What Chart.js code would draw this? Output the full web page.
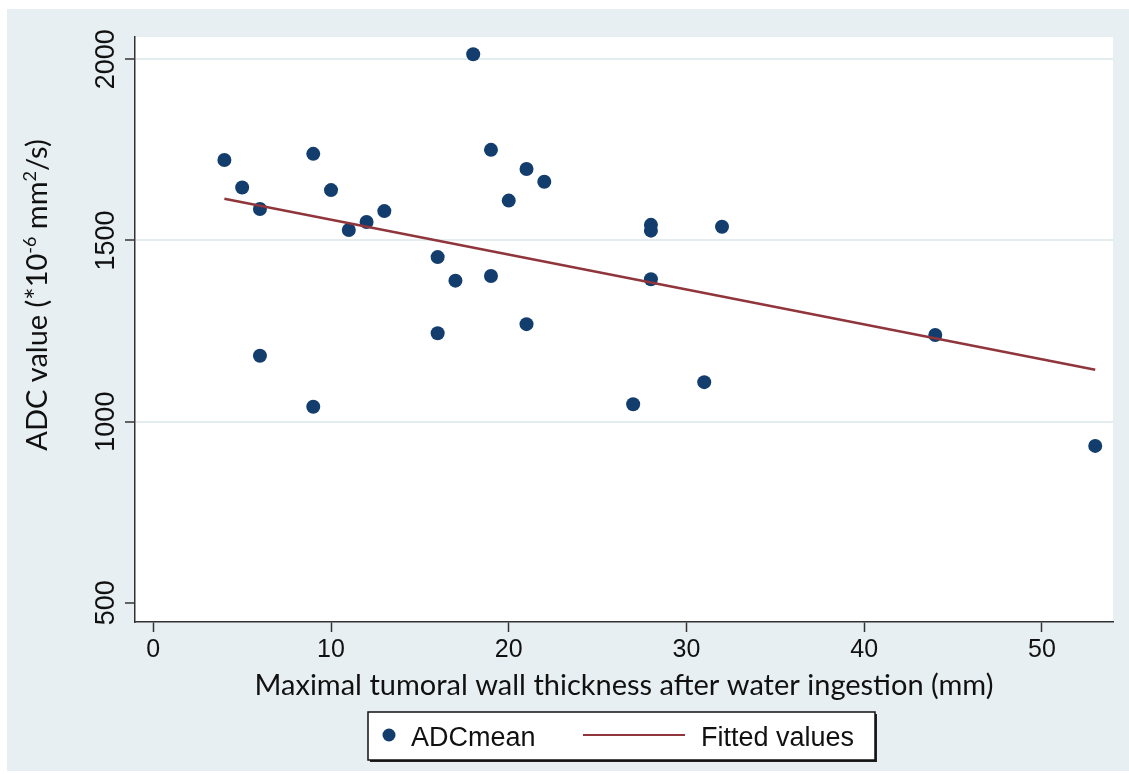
<!DOCTYPE html>
<html>
<head>
<meta charset="utf-8">
<script src="https://cdn.jsdelivr.net/npm/chart.js@4.4.1/dist/chart.umd.min.js"></script>
<style>
  html, body { margin: 0; padding: 0; background: #fff; }
  #wrap { position: absolute; left: 0; top: 0; width: 1129px; height: 774px; }
</style>
</head>
<body>
<div id="wrap"><canvas id="adcChart" width="1129" height="774"></canvas></div>
<script>
// Data
const thickness = [4, 5, 6, 6, 9, 9, 10, 11, 12, 13, 16, 16, 17, 18, 19, 19, 20, 21, 21, 22, 27, 28, 28, 28, 31, 32, 44, 53];
const adcMean = [1722, 1646, 1587, 1182, 1739, 1041, 1639, 1529, 1551, 1581, 1454, 1244, 1389, 2014, 1750, 1402, 1610, 1697, 1269, 1662, 1048, 1543, 1527, 1393, 1109, 1538, 1239, 933];
const fitX = [4, 53];
const fitY = [1615, 1143];
const xTicks = [0, 10, 20, 30, 40, 50];
const yTicks = [500, 1000, 1500, 2000];

const dotColor = '#123d6d';
const fitColor = '#90353b';
const panelColor = '#e8eff2';
const axisColor = '#333333';

// Stata-like background: light panel, white plot region
const backgroundPlugin = {
  id: 'background',
  beforeDraw(chart) {
    const { ctx, chartArea } = chart;
    ctx.save();
    ctx.fillStyle = panelColor;
    ctx.fillRect(7, 9, 1122, 762);
    ctx.fillStyle = '#ffffff';
    ctx.fillRect(chartArea.left, chartArea.top, chartArea.right - chartArea.left, chartArea.bottom - chartArea.top);
    ctx.restore();
  }
};

// rotated y tick labels and y title with superscripts
const yLabelsPlugin = {
  id: 'yLabels',
  afterDraw(chart) {
    const { ctx } = chart;
    const yScale = chart.scales.y;
    ctx.save();
    ctx.fillStyle = '#111';
    ctx.font = '27px "Liberation Sans", Arial, sans-serif';
    ctx.textAlign = 'center';
    ctx.textBaseline = 'alphabetic';
    yScale.ticks.forEach(t => {
      ctx.save();
      ctx.translate(114, yScale.getPixelForValue(t.value));
      ctx.rotate(-Math.PI / 2);
      ctx.fillText(String(t.value), 0, 0);
      ctx.restore();
    });

    // title
    const parts = [
      { text: 'ADC value (*10', sup: false },
      { text: '-6', sup: true },
      { text: ' mm', sup: false },
      { text: '2', sup: true },
      { text: '/s)', sup: false }
    ];
    const big = '29px Lato, "Open Sans", sans-serif';
    const small = '18px Lato, "Open Sans", sans-serif';
    let total = 0;
    parts.forEach(p => {
      ctx.font = p.sup ? small : big;
      p.w = ctx.measureText(p.text).width;
      total += p.w;
    });
    ctx.translate(47, 295);
    ctx.rotate(-Math.PI / 2);
    ctx.textAlign = 'left';
    ctx.fillStyle = '#111';
    let x = -total / 2;
    parts.forEach(p => {
      ctx.font = p.sup ? small : big;
      ctx.fillText(p.text, x, p.sup ? -11 : 0);
      x += p.w;
    });
    ctx.restore();
  }
};

// boxed legend below the x title
const boxLegendPlugin = {
  id: 'boxLegend',
  afterDraw(chart) {
    const { ctx } = chart;
    const ds = chart.data.datasets;
    const bx = 368, by = 712, bw = 507, bh = 48;
    ctx.save();
    ctx.fillStyle = '#222';
    ctx.fillRect(bx + 2, by + 2, bw, bh);
    ctx.fillStyle = '#fff';
    ctx.fillRect(bx, by, bw, bh);
    ctx.strokeStyle = '#111';
    ctx.lineWidth = 1.5;
    ctx.strokeRect(bx, by, bw, bh);

    const cy = by + 23;
    ctx.fillStyle = ds[0].backgroundColor;
    ctx.beginPath();
    ctx.arc(389, cy, 6.5, 0, Math.PI * 2);
    ctx.fill();

    ctx.strokeStyle = ds[1].borderColor;
    ctx.lineWidth = 2;
    ctx.beginPath();
    ctx.moveTo(583, cy);
    ctx.lineTo(685, cy);
    ctx.stroke();

    ctx.fillStyle = '#111';
    ctx.font = '27px "Liberation Sans", Arial, sans-serif';
    ctx.textBaseline = 'alphabetic';
    ctx.fillText(ds[0].label, 411, by + 34);
    ctx.fillText(ds[1].label, 701, by + 34);
    ctx.restore();
  }
};

const initChart = () => {
  const canvas = document.getElementById('adcChart');
  const ctx = canvas.getContext('2d');

  new Chart(ctx, {
    type: 'scatter',
    data: {
      datasets: [{
        label: 'ADCmean',
        data: thickness.map((t, i) => ({ x: t, y: adcMean[i] })),
        backgroundColor: dotColor,
        borderColor: dotColor,
        pointRadius: 7,
        pointHoverRadius: 7,
        borderWidth: 0,
        order: 1
      }, {
        label: 'Fitted values',
        data: fitX.map((t, i) => ({ x: t, y: fitY[i] })),
        showLine: true,
        borderColor: fitColor,
        backgroundColor: fitColor,
        borderWidth: 2.5,
        pointRadius: 0,
        order: 0
      }]
    },
    options: {
      responsive: false,
      animation: false,
      layout: { padding: { left: 0, top: 37, right: 16, bottom: 0 } },
      plugins: {
        legend: { display: false },
        tooltip: { enabled: false }
      },
      scales: {
        x: {
          type: 'linear',
          min: -1.03,
          max: 54,
          afterBuildTicks: s => { s.ticks = xTicks.map(v => ({ value: v })); },
          afterFit: s => { s.height = 152; },
          border: { color: axisColor, width: 1.5 },
          grid: { drawOnChartArea: false, drawTicks: true, tickLength: 10, tickColor: axisColor, tickWidth: 1.5 },
          ticks: {
            color: '#111',
            padding: 3,
            font: { family: '"Liberation Sans", Arial, sans-serif', size: 25 }
          },
          title: {
            display: true,
            text: 'Maximal tumoral wall thickness after water ingestion (mm)',
            color: '#111',
            font: { family: 'Lato, "Open Sans", sans-serif', size: 29 },
            padding: { top: 0, bottom: 71 }
          }
        },
        y: {
          type: 'linear',
          min: 447,
          max: 2061.5,
          afterBuildTicks: s => { s.ticks = yTicks.map(v => ({ value: v })); },
          afterFit: s => { s.width = 135; },
          border: { color: axisColor, width: 1.5 },
          grid: {
            color: c => (c.tick && c.tick.value === 500) ? 'rgba(0,0,0,0)' : '#e3ecef',
            lineWidth: 2,
            drawTicks: true,
            tickLength: 10,
            tickColor: axisColor,
            tickWidth: 1.5
          },
          ticks: { display: false }
        }
      }
    },
    plugins: [backgroundPlugin, yLabelsPlugin, boxLegendPlugin]
  });
};

document.addEventListener('DOMContentLoaded', initChart);
</script>
</body>
</html>
